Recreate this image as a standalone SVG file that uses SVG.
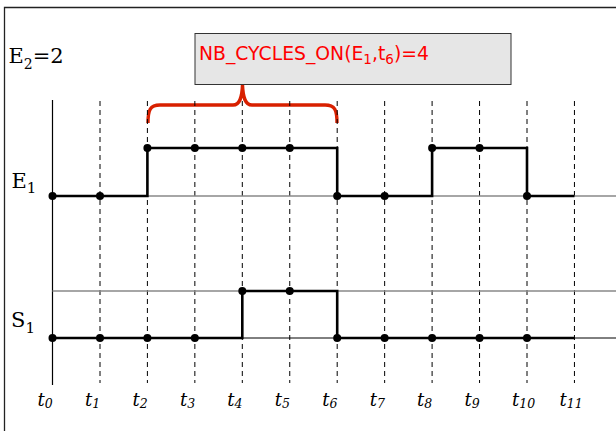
<svg xmlns="http://www.w3.org/2000/svg" width="616" height="431" viewBox="0 0 616 431">
<style>
.frame{fill:none;stroke:#222;stroke-width:1.3}
.axis{stroke:#000;stroke-width:1.2;fill:none}
.dash{stroke:#000;stroke-width:1;stroke-dasharray:5,4;fill:none}
.ref{stroke:#888;stroke-width:1.6;fill:none}
.refk{stroke:#000;stroke-width:1;fill:none}
.sig{stroke:#000;stroke-width:2.6;fill:none;stroke-linejoin:miter}
.dot{fill:#000}
.lbl{font-family:"DejaVu Serif",serif;font-size:21px;fill:#000}
.tl{font-family:"DejaVu Serif",serif;font-style:italic;font-size:18px;fill:#000}
.ann{font-family:"DejaVu Sans",sans-serif;font-size:18.8px;fill:#ff0000}
</style>
<rect width="616" height="431" fill="#fff"/>
<path class="frame" d="M4.5,431 V7.5 H616"/>

<g id="annotation">
<rect x="195" y="33.5" width="316" height="51" fill="#e6e6e6" stroke="#333" stroke-width="1"/>
<text class="ann" x="199" y="60">NB_CYCLES_ON(E<tspan font-size="13.5" dy="4">1</tspan><tspan dy="-4">,t</tspan><tspan font-size="13.5" dy="4">6</tspan><tspan dy="-4">)=4</tspan></text>
</g>
<g id="brace">
<path d="M148,123 C148,110 150,105 160,105 H233 C240,105 242,97 242.5,85 C243,97 245,105 252,105 H325 C335,105 337,110 337,123" fill="none" stroke="#d82000" stroke-width="3.4"/>
</g>

<g id="grid">
<line class="axis" x1="52.5" y1="100" x2="52.5" y2="385"/>
<line class="dash" x1="100" y1="101" x2="100" y2="383"/>
<line class="dash" x1="147.4" y1="101" x2="147.4" y2="383"/>
<line class="dash" x1="194.85" y1="101" x2="194.85" y2="383"/>
<line class="dash" x1="242.3" y1="101" x2="242.3" y2="383"/>
<line class="dash" x1="289.75" y1="101" x2="289.75" y2="383"/>
<line class="dash" x1="337.2" y1="101" x2="337.2" y2="383"/>
<line class="dash" x1="384.65" y1="101" x2="384.65" y2="383"/>
<line class="dash" x1="432.1" y1="101" x2="432.1" y2="383"/>
<line class="dash" x1="479.55" y1="101" x2="479.55" y2="383"/>
<line class="dash" x1="527" y1="101" x2="527" y2="383"/>
<line class="dash" x1="574.45" y1="101" x2="574.45" y2="383"/>
<line class="ref" x1="52.5" y1="196" x2="616" y2="196"/>
<line class="ref" x1="52.5" y1="291" x2="616" y2="291"/>
<line class="refk" x1="52.5" y1="338" x2="616" y2="338"/>
</g>

<g id="E1">
<path class="sig" d="M52.5,196 H147.4 V148 H337.2 V196 H432.1 V148 H527 V196 H574.45"/>
<circle class="dot" cx="52.5" cy="196" r="4"/>
<circle class="dot" cx="100" cy="196" r="4"/>
<circle class="dot" cx="147.4" cy="148" r="4"/>
<circle class="dot" cx="194.85" cy="148" r="4"/>
<circle class="dot" cx="242.3" cy="148" r="4"/>
<circle class="dot" cx="289.75" cy="148" r="4"/>
<circle class="dot" cx="337.2" cy="196" r="4"/>
<circle class="dot" cx="384.65" cy="196" r="4"/>
<circle class="dot" cx="432.1" cy="148" r="4"/>
<circle class="dot" cx="479.55" cy="148" r="4"/>
<circle class="dot" cx="527" cy="196" r="4"/>
</g>

<g id="S1">
<path class="sig" d="M52.5,338 H242.3 V291 H337.2 V338 H574.45"/>
<circle class="dot" cx="52.5" cy="338" r="4"/>
<circle class="dot" cx="100" cy="338" r="4"/>
<circle class="dot" cx="147.4" cy="338" r="4"/>
<circle class="dot" cx="194.85" cy="338" r="4"/>
<circle class="dot" cx="242.3" cy="291" r="4"/>
<circle class="dot" cx="289.75" cy="291" r="4"/>
<circle class="dot" cx="337.2" cy="338" r="4"/>
<circle class="dot" cx="384.65" cy="338" r="4"/>
<circle class="dot" cx="432.1" cy="338" r="4"/>
<circle class="dot" cx="479.55" cy="338" r="4"/>
<circle class="dot" cx="527" cy="338" r="4"/>
</g>

<g id="labels">
<text class="lbl" x="8.5" y="63">E<tspan font-size="14" dy="6">2</tspan><tspan dy="-6">=2</tspan></text>
<text class="lbl" x="11.5" y="187.5">E<tspan font-size="15" dy="5.5">1</tspan></text>
<text class="lbl" x="11" y="326.5">S<tspan font-size="15" dy="6">1</tspan></text>
</g>

<g id="time-labels">
<text class="tl" x="37.5" y="406">t<tspan font-size="12.5" dy="2">0</tspan></text>
<text class="tl" x="85" y="406">t<tspan font-size="12.5" dy="2">1</tspan></text>
<text class="tl" x="132.4" y="406">t<tspan font-size="12.5" dy="2">2</tspan></text>
<text class="tl" x="179.9" y="406">t<tspan font-size="12.5" dy="2">3</tspan></text>
<text class="tl" x="227.3" y="406">t<tspan font-size="12.5" dy="2">4</tspan></text>
<text class="tl" x="274.8" y="406">t<tspan font-size="12.5" dy="2">5</tspan></text>
<text class="tl" x="322.2" y="406">t<tspan font-size="12.5" dy="2">6</tspan></text>
<text class="tl" x="369.7" y="406">t<tspan font-size="12.5" dy="2">7</tspan></text>
<text class="tl" x="417.1" y="406">t<tspan font-size="12.5" dy="2">8</tspan></text>
<text class="tl" x="464.6" y="406">t<tspan font-size="12.5" dy="2">9</tspan></text>
<text class="tl" x="512" y="406">t<tspan font-size="12.5" dy="2">10</tspan></text>
<text class="tl" x="559.5" y="406">t<tspan font-size="12.5" dy="2">11</tspan></text>
</g>
</svg>
